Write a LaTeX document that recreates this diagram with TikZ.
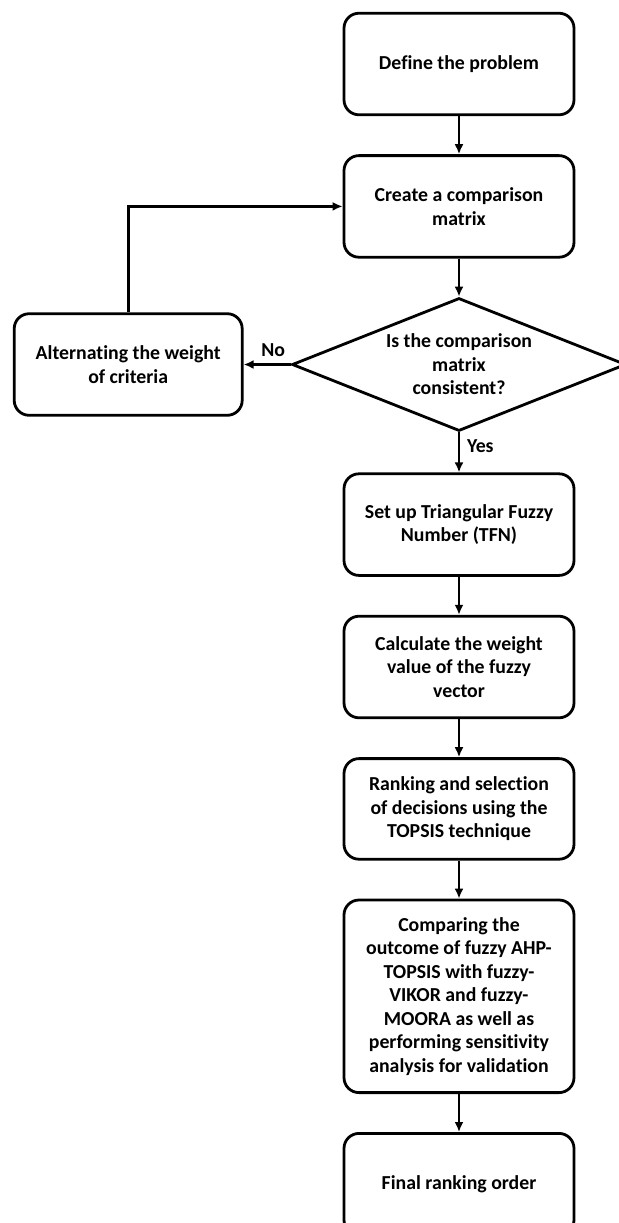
\documentclass[tikz,border=0pt]{standalone}
\usepackage{fontspec}
\setmainfont[Ligatures=NoCommon]{Carlito}
\usepackage{tikz}
\usetikzlibrary{arrows.meta,positioning,shapes.geometric}

\begin{document}
\begin{tikzpicture}[font=\fontsize{9.9}{11.75}\selectfont\bfseries,>={Latex[length=5pt,width=4.5pt]},node distance=19pt,line width=1.4pt]
  \tikzset{
    procbox/.style={draw,rounded corners=7.5pt,align=center,minimum width=115pt,minimum height=50.8pt,inner sep=2pt},
    decision/.style={draw,diamond,aspect=2.5,align=center,minimum width=167pt,minimum height=66.5pt,inner sep=0pt},
    flow/.style={->}
  }
  \useasboundingbox (0,0) rectangle (309.5pt,-611.5pt);
  \node[procbox] (define) at (229.5pt,-32pt) {Define the problem};
  \node[procbox,below=of define] (create) {Create a comparison\\matrix};
  \node[decision,below=of create] (consistent) {Is the comparison\\matrix\\consistent?};
  \node[procbox,left=23.5pt of consistent,minimum width=114pt] (alter) {Alternating the weight\\of criteria};
  \node[procbox,below=20pt of consistent] (tfn) {Set up Triangular Fuzzy\\Number (TFN)};
  \node[procbox,below=of tfn] (weight) {Calculate the weight\\value of the fuzzy\\vector};
  \node[procbox,below=of weight,minimum height=50.3pt] (topsis) {Ranking and selection\\of decisions using the\\TOPSIS technique};
  \node[procbox,below=of topsis,minimum height=96.3pt] (compare) {Comparing the\\outcome of fuzzy AHP-\\TOPSIS with fuzzy-\\VIKOR and fuzzy-\\MOORA as well as\\performing sensitivity\\analysis for validation};
  \node[procbox,below=of compare] (final) {Final ranking order};
  \draw[flow] (define) -- (create);
  \draw[flow] (create) -- (consistent);
  \draw[flow] (consistent) -- node[above,xshift=3pt]{No} (alter);
  \draw[flow] (alter.north) |- (create.west);
  \draw[flow] (consistent) -- node[right,pos=0.35]{Yes} (tfn);
  \draw[flow] (tfn) -- (weight);
  \draw[flow] (weight) -- (topsis);
  \draw[flow] (topsis) -- (compare);
  \draw[flow] (compare) -- (final);
\end{tikzpicture}
\end{document}
